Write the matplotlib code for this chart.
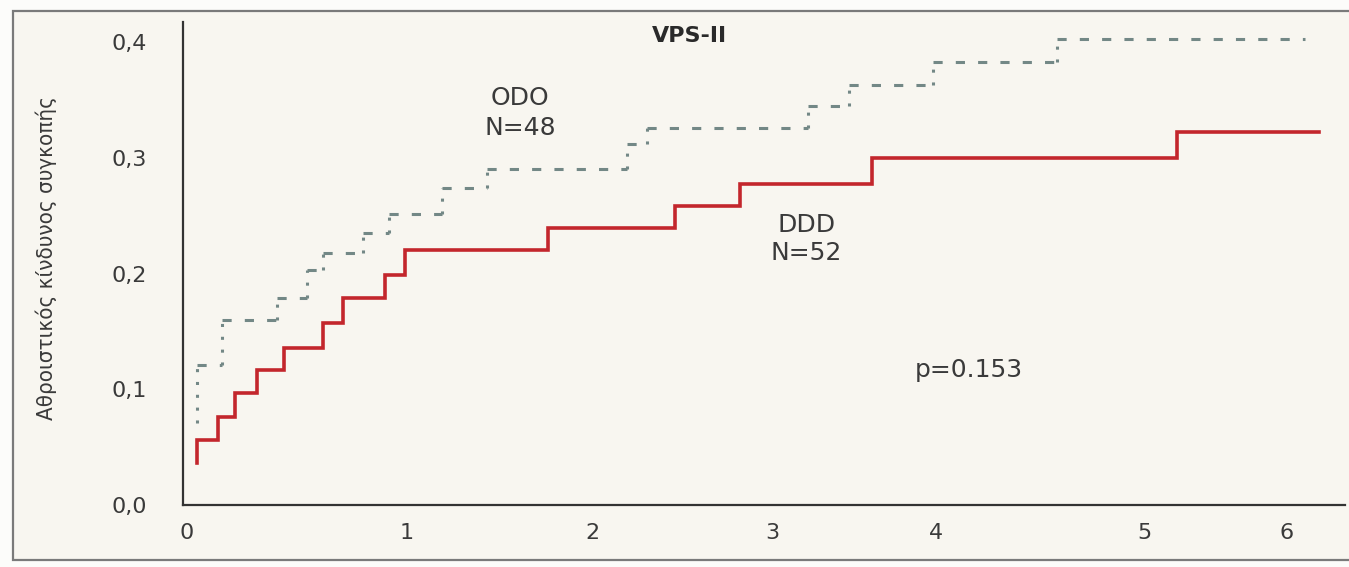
import numpy as np
import matplotlib
matplotlib.use("Agg")
import matplotlib.pyplot as plt
from matplotlib.patches import Rectangle

# cumulative risk of syncope
# DDD group (solid red)
ddd_start = 0.036
ddd_t = [0.045, 0.14, 0.22, 0.32, 0.44, 0.62, 0.71, 0.90, 0.99, 1.76, 2.46, 2.82, 3.61, 5.23]
ddd_cum = [0.056, 0.076, 0.097, 0.117, 0.136, 0.157, 0.179, 0.199, 0.220, 0.239, 0.258, 0.277, 0.300, 0.322]
ddd_end = 6.23

# ODO group (dashed grey)
odo_start = 0.071
odo_t = [0.045, 0.16, 0.41, 0.545, 0.62, 0.80, 0.92, 1.19, 1.43, 2.19, 2.30, 3.22, 3.47, 3.98, 4.58]
odo_cum = [0.121, 0.160, 0.179, 0.203, 0.218, 0.235, 0.251, 0.274, 0.290, 0.312, 0.326, 0.345, 0.363, 0.383, 0.403]
odo_end = 6.13

x_ticks = [0, 1, 2, 3, 4, 5, 6]
y_ticks = [0.0, 0.1, 0.2, 0.3, 0.4]
y_ticklabels = ["0,0", "0,1", "0,2", "0,3", "0,4"]

title = "VPS-II"
ylabel = "Αθροιστικός κίνδυνος συγκοπής"
p_text = "p=0.153"

# the printed x axis is not evenly spaced, so stretch it the same way
stretch_t = [-1, 0, 1, 2, 3, 4, 5, 6, 7]
stretch_px = [-33, 187, 407, 593, 772, 936, 1145, 1287, 1429]

def fwd(t):
    return np.interp(t, stretch_t, stretch_px)

def inv(p):
    return np.interp(p, stretch_px, stretch_t)

red = "#c3262c"
grey = "#738886"
txt = "#3a3a3a"

fig = plt.figure(figsize=(13.49, 5.67), dpi=100)
fig.patch.set_facecolor("#fcfcfa")

# outer frame of the printed figure
frame = Rectangle((13 / 1349, 7 / 567), 1.05, 549 / 567, transform=fig.transFigure,
                  facecolor="#f8f6f0", edgecolor="#7a7a7a", linewidth=1.6, zorder=-10)
fig.patches.append(frame)

ax = fig.add_axes([183 / 1349, 1 - 505 / 567, 1162 / 1349, 483 / 567])
ax.set_facecolor("none")
ax.set_xscale("function", functions=(fwd, inv))

# DDD as a step curve
x_ddd = np.r_[ddd_t[0], ddd_t, ddd_end]
y_ddd = np.r_[ddd_start, ddd_cum, ddd_cum[-1]]
ax.step(x_ddd, y_ddd, where="post", color=red, linewidth=2.6, solid_joinstyle="miter")

# ODO: dashed horizontals, dotted verticals like in print
odo_prev = np.r_[odo_start, odo_cum[:-1]]
odo_next = np.r_[odo_t[1:], odo_end]
ax.hlines(odo_cum, odo_t, odo_next, colors=grey, linewidth=2.2, linestyles=[(0, (3, 4.3))])
ax.vlines(odo_t, odo_prev, odo_cum, colors=grey, linewidth=2.2, linestyles=[(0, (1, 3.2))])

ax.set_xlim(-0.018, 6.41)
ax.set_ylim(0, 0.4173)

ax.set_xticks(x_ticks)
ax.set_xticklabels([str(v) for v in x_ticks])
ax.set_yticks(y_ticks)
ax.set_yticklabels(y_ticklabels)
ax.tick_params(axis="x", length=0, pad=13, labelsize=16, labelcolor=txt)
ax.tick_params(axis="y", length=0, pad=26, labelsize=16, labelcolor=txt)

for s in ["top", "right"]:
    ax.spines[s].set_visible(False)
for s in ["left", "bottom"]:
    ax.spines[s].set_color("#333333")
    ax.spines[s].set_linewidth(1.6)

ax.text(2.54, 0.405, title, ha="center", va="center", fontsize=16, fontweight="bold", color="#2a2a2a")
ax.text(1.61, 0.352, "ODO", ha="center", va="center", fontsize=18, color=txt)
ax.text(1.61, 0.326, "N=48", ha="center", va="center", fontsize=18, color=txt)
ax.text(3.21, 0.242, "DDD", ha="center", va="center", fontsize=18, color=txt)
ax.text(3.21, 0.218, "N=52", ha="center", va="center", fontsize=18, color=txt)
ax.text(4.16, 0.117, p_text, ha="center", va="center", fontsize=18, color=txt)

fig.text(46 / 1349, 1 - 258 / 567, ylabel, rotation=90, ha="center", va="center",
         fontsize=16, color=txt, family="DejaVu Sans", fontstretch="condensed")

fig.savefig("out.png", dpi=100, facecolor=fig.get_facecolor())
